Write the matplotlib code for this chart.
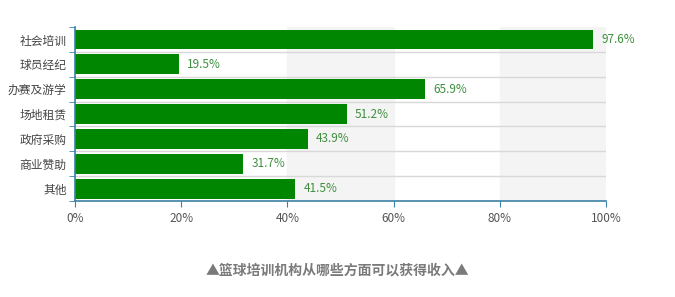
#!/usr/bin/env python3

import matplotlib.pyplot as plt

plt.rcParams['font.family'] = ['Noto Sans CJK SC', 'DejaVu Sans']

categories = ['社会培训', '球员经纪', '办赛及游学', '场地租赁', '政府采购', '商业赞助', '其他']
values = [97.6, 19.5, 65.9, 51.2, 43.9, 31.7, 41.5]
x_ticks = [0, 20, 40, 60, 80, 100]
title = '▲篮球培训机构从哪些方面可以获得收入▲'


def main():
    fig = plt.figure(figsize=(6.75, 2.97), dpi=100)
    ax = fig.add_axes([0.111, 0.323, 0.787, 0.586])

    n = len(categories)
    ypos = list(range(n))[::-1]

    # 배경 세로 띠
    for start in (40, 80):
        ax.axvspan(start, start + 20, color='#f4f4f4', zorder=0)

    # 행 구분선
    for i in range(1, n):
        ax.axhline(i - 0.5, color='#d8d8d8', linewidth=1, zorder=1)

    ax.barh(ypos, values, height=0.8, color='#008600', zorder=2)

    for y, v in zip(ypos, values):
        ax.text(v + 1.5, y, f'{v}%', va='center', ha='left',
                fontsize=8.5, color='#3f8f3f')

    ax.set_xlim(0, 100)
    ax.set_ylim(-0.5, n - 0.5)
    ax.set_xticks(x_ticks)
    ax.set_xticklabels([f'{t}%' for t in x_ticks], fontsize=8.5, color='#555555')
    ax.set_yticks(ypos)
    ax.set_yticklabels(categories, fontsize=8.5, color='#444444')
    ax.set_yticks([i - 0.5 for i in range(n + 1)], minor=True)

    ax.tick_params(axis='y', which='major', length=0, pad=6)
    ax.tick_params(axis='y', which='minor', length=4, color='#3a80a8')
    ax.tick_params(axis='x', length=4, color='#3a80a8', pad=4)

    for side in ('top', 'right'):
        ax.spines[side].set_visible(False)
    for side in ('left', 'bottom'):
        ax.spines[side].set_color('#3a80a8')
        ax.spines[side].set_linewidth(1.2)

    fig.text(0.5, 0.09, title, ha='center', va='center',
             fontsize=10, color='#7a7a7a', fontweight='bold')

    fig.savefig('out.png', dpi=100)
    plt.close(fig)


if __name__ == '__main__':
    main()
